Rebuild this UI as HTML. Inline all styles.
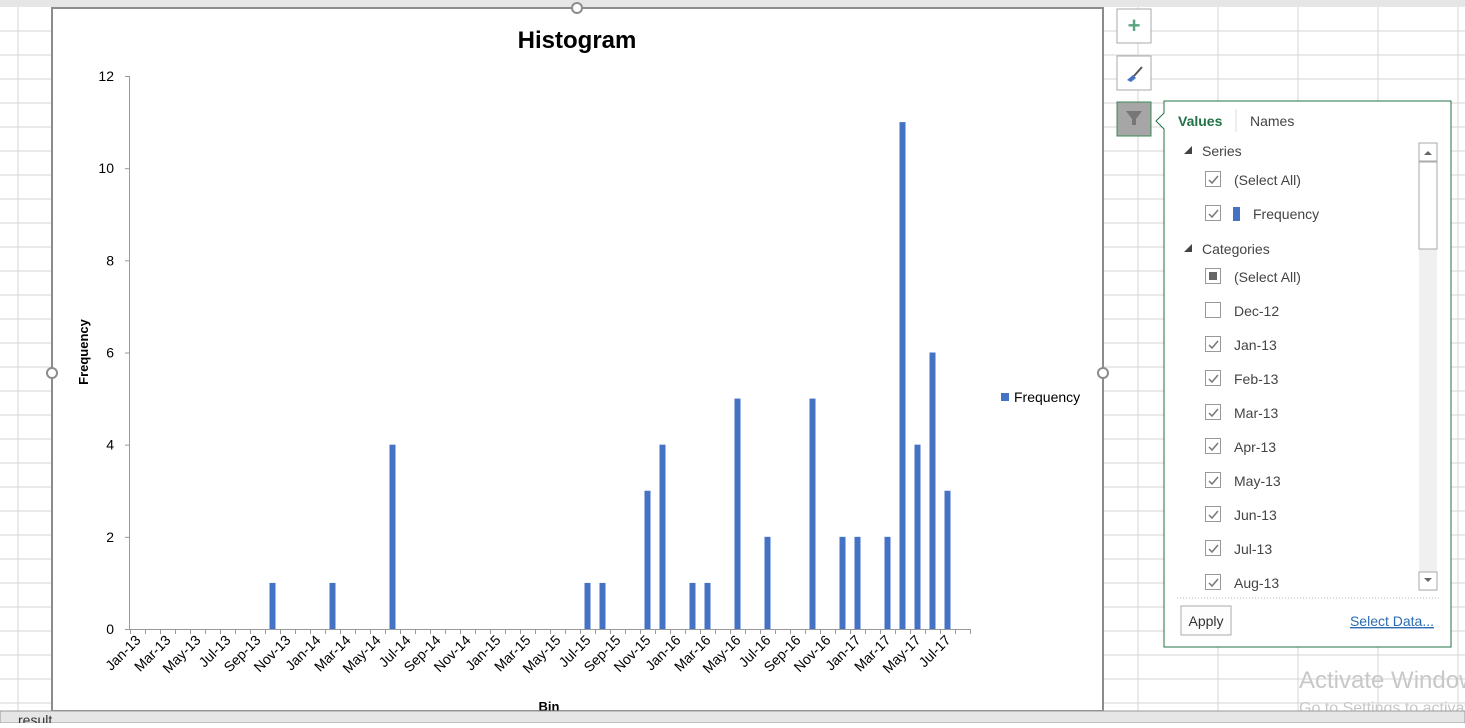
<!DOCTYPE html>
<html><head><meta charset="utf-8"><style>
body{margin:0;width:1465px;height:723px;overflow:hidden;background:#fff;font-family:"Liberation Sans",sans-serif;}
svg text{font-family:"Liberation Sans",sans-serif;}
</style></head><body>
<svg width="1465" height="723">
<g id="grid"></g>
<rect x="0" y="0" width="1465" height="7" fill="#e6e6e6"/>
<rect x="52" y="8" width="1051" height="703" fill="#fff" stroke="#8c8c8c" stroke-width="2"/>
<circle cx="52" cy="373" r="5" fill="#fff" stroke="#8c8c8c" stroke-width="2"/>
<circle cx="1103" cy="373" r="5" fill="#fff" stroke="#8c8c8c" stroke-width="2"/>
<circle cx="577" cy="8" r="5" fill="#fff" stroke="#8c8c8c" stroke-width="2"/>
<text x="577" y="48" font-size="24" font-weight="bold" text-anchor="middle">Histogram</text>
<text transform="translate(88,352) rotate(-90)" font-size="13" font-weight="bold" text-anchor="middle">Frequency</text>
<text x="549" y="711" font-size="13" font-weight="bold" text-anchor="middle">Bin</text>
<g id="plot"></g>
<rect x="1001" y="393" width="8" height="8" fill="#4472c4"/>
<text x="1014" y="402" font-size="14">Frequency</text>
<rect x="1117" y="9" width="34" height="34" fill="#fff" stroke="#aaa"/>
<text x="1134" y="33" font-size="22" font-weight="bold" fill="#5aa57f" text-anchor="middle">+</text>
<rect x="1117" y="56" width="34" height="34" fill="#fff" stroke="#aaa"/>
<path d="M1127 80 l6 -5 l3 3 l-5 4 z" fill="#4472c4"/><path d="M1134 76 l8 -9" stroke="#555" stroke-width="2"/>
<rect x="1117" y="102" width="34" height="34" fill="#a6a6a6" stroke="#3c8a57"/>
<path d="M1126 111 h16 l-6 8 v6 h-4 v-6 z" fill="#777"/>
<path d="M1164 101 h287 v546 h-287 v-518 l-8 -8 l8 -8 z" fill="#fff" stroke="#217346"/>
<text x="1178" y="126" font-size="14" font-weight="bold" fill="#217346">Values</text>
<line x1="1236" y1="109" x2="1236" y2="132" stroke="#ddd"/>
<text x="1250" y="126" font-size="14" fill="#444">Names</text>
<g id="panel"></g>
<rect x="1419" y="143" width="18" height="448" fill="#f0f0f0"/>
<rect x="1419" y="143" width="18" height="18" fill="#fff" stroke="#aaa"/><path d="M1424 155 l4 -4 l4 4z" fill="#666"/>
<rect x="1419" y="162" width="18" height="87" fill="#fff" stroke="#aaa"/>
<rect x="1419" y="572" width="18" height="18" fill="#fff" stroke="#aaa"/><path d="M1424 578 l4 4 l4 -4z" fill="#666"/>
<line x1="1177" y1="598" x2="1439" y2="598" stroke="#bbb" stroke-dasharray="1,2"/>
<rect x="1181" y="606" width="50" height="29" fill="#fdfdfd" stroke="#aaa"/>
<text x="1206" y="626" font-size="14" fill="#333" text-anchor="middle">Apply</text>
<text x="1434" y="626" font-size="14" fill="#2b6cb0" text-anchor="end" text-decoration="underline">Select Data...</text>
<text x="1299" y="688" font-size="24" fill="#c8c8c8">Activate Windows</text>
<text x="1299" y="713" font-size="16" fill="#c8c8c8">Go to Settings to activate</text>
<rect x="0" y="711" width="1465" height="12" fill="#e6e6e6" stroke="#999"/>
<text x="18" y="725" font-size="14" fill="#333">result</text>
</svg>
<script>
const categories=[];
const months=["Jan","Feb","Mar","Apr","May","Jun","Jul","Aug","Sep","Oct","Nov","Dec"];
for(let y=13;y<=17;y++)for(let m=0;m<12;m++){if(y===17&&m>7)break;categories.push(months[m]+"-"+y);}
const frequency=[0,0,0,0,0,0,0,0,0,1,0,0,0,1,0,0,0,4,0,0,0,0,0,0,0,0,0,0,0,0,1,1,0,0,3,4,0,1,1,0,5,0,2,0,0,5,0,2,2,0,2,11,4,6,3,0];
const yTicks=[0,2,4,6,8,10,12];
const NS="http://www.w3.org/2000/svg";
function mk(t,a,p){const e=document.createElementNS(NS,t);for(const k in a)e.setAttribute(k,a[k]);p.appendChild(e);return e;}
const grid=document.getElementById('grid');
for(let x=18;x<1465;x+=80){const l=mk('line',{x1:x,y1:0,x2:x,y2:723,stroke:'#d4d4d4'},grid);}
for(let y=31;y<723;y+=24){mk('line',{x1:0,y1:y,x2:1465,y2:y,stroke:'#d4d4d4'},grid);}
const plot=document.getElementById('plot');
const x0=130,step=15,y0=629,yTop=76,yMax=12;
const xc=i=>x0+step*(i+0.5);
const ys=v=>y0-(y0-yTop)*v/yMax;
mk('line',{x1:129.5,y1:yTop,x2:129.5,y2:y0,stroke:'#999'},plot);
mk('line',{x1:x0,y1:y0+0.5,x2:x0+step*categories.length,y2:y0+0.5,stroke:'#999'},plot);
yTicks.forEach(v=>{
 mk('line',{x1:125,y1:ys(v)+0.5,x2:130,y2:ys(v)+0.5,stroke:'#999'},plot);
 const t=mk('text',{x:114,y:ys(v)+5,'font-size':14,'text-anchor':'end'},plot);t.textContent=v;
 
 
});
for(let i=0;i<=categories.length;i++)mk('line',{x1:x0+step*i+0.5,y1:y0,x2:x0+step*i+0.5,y2:y0+5,stroke:'#999'},plot);
categories.forEach((c,i)=>{
 if(frequency[i]>0){const r=mk('rect',{x:xc(i)-3,y:ys(frequency[i]),width:6,height:y0-ys(frequency[i]),fill:'#4472c4'},plot);
  
  }
 if(i%2===0){const t=mk('text',{transform:`translate(${xc(i)+4},${y0+12}) rotate(-45)`,'font-size':14,'text-anchor':'end'},plot);t.textContent=c;
  
  }
});
const panel=document.getElementById('panel');
const rows=[["h","Series",151],["c","(Select All)",180],["c","Frequency",214,1],["h","Categories",249],["p","(Select All)",277],["u","Dec-12",311],["c","Jan-13",345],["c","Feb-13",379],["c","Mar-13",413],["c","Apr-13",447],["c","May-13",481],["c","Jun-13",515],["c","Jul-13",549],["c","Aug-13",583]];
rows.forEach(r=>{
 const y=r[2];
 if(r[0]==='h'){mk('path',{d:`M1184 ${y+3} l8 -8 v8z`,fill:'#444'},panel);const t=mk('text',{x:1202,y:y+5,'font-size':14,fill:'#444'},panel);t.textContent=r[1];return;}
 const b=mk('rect',{x:1205.5,y:y-8.5,width:15,height:15,fill:'#fff',stroke:'#999'},panel);
 
 
 if(r[0]==='c')mk('path',{d:`M1209 ${y} l3 3 l6 -7`,stroke:'#777','stroke-width':1.5,fill:'none'},panel);
 if(r[0]==='p')mk('rect',{x:1209,y:y-5,width:8,height:8,fill:'#666'},panel);
 let tx=1234;if(r[3]){mk('rect',{x:1233,y:y-7,width:7,height:14,fill:'#4472c4'},panel);tx=1253;}
 const t=mk('text',{x:tx,y:y+5,'font-size':14,fill:'#444'},panel);t.textContent=r[1];
});
</script>
</body></html>
